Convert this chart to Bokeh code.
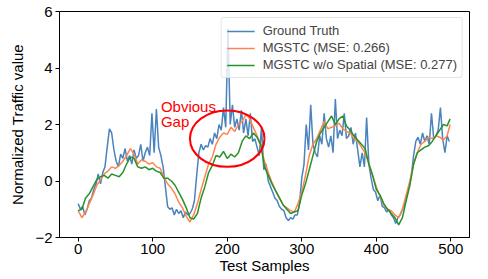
from bokeh.plotting import figure
from bokeh.models import Range1d, FixedTicker, Legend, LegendItem, Label
from bokeh.embed import file_html
from bokeh.resources import INLINE

# ---------------- data ----------------
gt_x = list(range(0, 499, 3))
gt_y = [
    -0.8, -1.0, -0.9, -1.2, -1.0, -0.7, -0.6, -0.3, -0.1, 0.25,
    -0.1, 0.3, 0.5, 1.2, 1.85, 1.7, 1.1, 0.7, 0.5, 0.95,
    0.8, 1.15, 0.7, 0.9, 0.6, 1.1, 0.8, 0.9, 1.3, 0.7,
    1.0, 1.2, 0.9, 2.4, 1.0, 2.55, 1.2, 0.9, 0.5, -0.2,
    -0.9, -1.0, -0.95, -1.2, -1.0, -1.15, -1.05, -1.3, -1.1, -1.2,
    -1.15, -1.0, -0.7, 0.2, 1.0, 1.3, 1.1, 1.25, 1.2, 1.5,
    1.3, 1.7, 1.5, 2.0, 1.8, 2.6, 1.9, 5.4, 2.0, 2.7,
    1.9, 2.2, 1.8, 2.5, 1.7, 2.2, 1.6, 2.4, 1.4, 1.5,
    1.2, 0.9, 1.9, 0.4, 0.6, 0.0, -0.2, -0.4, -0.6, -0.7,
    -0.9, -1.0, -1.05, -1.3, -1.4, -1.3, -1.35, -1.2, -1.2, -0.8,
    0.1, 0.6, 2.0, 1.1, 2.7, 1.3, 1.0, 0.85, 1.6, 1.3,
    2.4, 1.5, 1.2, 1.6, 1.0, 2.9, 1.5, 1.8, 1.6, 2.4,
    1.5, 1.6, 1.9, 1.3, 1.7, 1.1, 0.5, 1.0, 0.5, 2.25,
    0.6, 0.1, -0.3, -0.4, -0.7, -0.5, -0.9, -0.95, -1.1, -1.0,
    -1.2, -1.3, -1.5, -1.3, -1.2, -1.0, -0.8, -0.5, -0.2, 0.2,
    0.9, 1.4, 1.55, 1.3, 1.7, 1.4, 1.6, 1.3, 2.4, 1.5,
    1.6, 1.8, 2.6, 1.5, 1.0, 1.6, 1.4,
]

pred_x = list(range(0, 500, 5)) + [499]
mgstc_y = [
    -1.05, -1.3, -1.1, -0.8, -0.5, -0.15, 0.05, 0.25, 0.35, 0.5,
    0.45, 0.55, 0.7, 0.9, 1.15, 0.95, 0.6, 0.75, 0.7, 0.6,
    0.65, 0.5, 0.45, 0.15, -0.1, -0.25, -0.45, -0.75, -0.95, -1.25,
    -1.45, -1.2, -0.8, -0.3, 0.15, 0.6, 0.85, 1.3, 1.55, 1.7,
    1.65, 1.9, 1.75, 2.0, 2.1, 2.35, 2.2, 1.9, 1.6, 1.2,
    0.7, 0.3, -0.05, -0.35, -0.6, -0.85, -0.95, -1.05, -1.1, -0.8,
    -0.4, 0.2, 0.9, 1.3, 1.5, 1.8, 2.1, 1.85, 1.9, 1.95,
    2.05, 1.85, 1.75, 1.7, 1.5, 1.4, 1.2, 1.0, 0.6, 0.2,
    -0.2, -0.55, -0.85, -1.0, -1.05, -1.2, -1.3, -1.0, -0.5, 0.0,
    0.6, 1.0, 1.3, 1.4, 1.55, 1.5, 1.6, 1.55, 1.45, 1.6,
    2.0,
]
nospatial_y = [
    -1.05, -1.0, -0.6, -0.45, -0.2, 0.05, 0.15, 0.2, 0.1, 0.25,
    0.2, 0.15, 0.3, 0.6, 0.85, 0.8, 0.5, 0.45, 0.5, 0.4,
    0.45, 0.35, 0.3, 0.1, 0.1, 0.0, -0.15, -0.4, -0.65, -0.95,
    -1.3, -1.35, -1.15, -0.6, -0.2, 0.3, 0.55, 0.9, 0.85, 1.05,
    0.8, 0.95, 0.85, 1.0, 1.4, 1.6, 1.5, 1.7, 1.55, 1.3,
    0.5, 0.2, -0.1, -0.35, -0.6, -0.85, -1.0, -1.15, -1.1, -1.05,
    -0.5, -0.1, 0.4, 0.9, 1.4, 1.7, 1.9, 2.1, 2.3, 2.0,
    2.2, 2.3, 1.95, 1.8, 1.6, 1.45, 1.3, 1.15, 0.6, 0.2,
    -0.3, -0.5, -0.8, -1.0, -1.15, -1.3, -1.55, -1.3, -0.7, -0.15,
    0.6, 1.0, 1.1, 1.2, 1.25, 1.4, 1.6, 1.8, 2.0, 1.95,
    2.2,
]

series_labels = ["Ground Truth", "MGSTC (MSE: 0.266)", "MGSTC w/o Spatial (MSE: 0.277)"]
x_ticks = [0, 100, 200, 300, 400, 500]
y_ticks = [-2, 0, 2, 4, 6]
y_tick_labels = ["\u22122", "0", "2", "4", "6"]

# annotation: ellipse around the gap
gap_center = (200, 1.5)
gap_size = (100, 2.0)
note_lines = ["Obvious", "Gap"]
note_pos = [(111, 2.64), (111, 2.1)]

FONT = "Liberation Sans"

p = figure(width=480, height=277, x_range=Range1d(-25, 525), y_range=Range1d(-2, 6),
           output_backend="svg", toolbar_location=None,
           min_border_left=59, min_border_right=11, min_border_top=11, min_border_bottom=40)
p.background_fill_color = "white"
p.border_fill_color = "white"
p.grid.visible = False
p.outline_line_color = "black"
p.outline_line_width = 1

for ax in (p.xaxis[0], p.yaxis[0]):
    ax.axis_line_color = "black"
    ax.major_tick_line_color = "black"
    ax.major_tick_in = 0
    ax.major_tick_out = 4
    ax.minor_tick_line_color = None
    ax.major_label_text_font = FONT
    ax.major_label_text_font_size = "15px"
    ax.major_label_text_color = "black"
    ax.axis_label_text_font = FONT
    ax.axis_label_text_font_size = "15px"
    ax.axis_label_text_font_style = "normal"
    ax.axis_label_text_color = "black"

p.xaxis.ticker = FixedTicker(ticks=x_ticks)
p.yaxis.ticker = FixedTicker(ticks=y_ticks)
p.yaxis.major_label_overrides = {t: l for t, l in zip(y_ticks, y_tick_labels)}
p.xaxis.major_label_standoff = 2
p.xaxis.axis_label_standoff = 0
p.yaxis.major_label_standoff = 3
p.yaxis.axis_label_standoff = 6
p.xaxis.axis_label = "Test Samples"
p.yaxis.axis_label = "Normalized Traffic value"

r_gt = p.line(gt_x, gt_y, line_color="#4a83bd", line_width=1.5)
r_m = p.line(pred_x, mgstc_y, line_color="#ff8450", line_width=1.5)
r_n = p.line(pred_x, nospatial_y, line_color="#27922a", line_width=1.5)

p.ellipse(x=[gap_center[0]], y=[gap_center[1]], width=[gap_size[0]], height=[gap_size[1]],
          fill_color=None, line_color="red", line_width=2)

for txt, (tx, ty) in zip(note_lines, note_pos):
    p.add_layout(Label(x=tx, y=ty, text=txt, text_color="red", text_font=FONT,
                       text_font_size="15px", text_baseline="alphabetic"))

legend = Legend(items=[LegendItem(label=series_labels[0], renderers=[r_gt]),
                       LegendItem(label=series_labels[1], renderers=[r_m]),
                       LegendItem(label=series_labels[2], renderers=[r_n])],
                location="top_right")
legend.margin = 6
legend.padding = 5
legend.spacing = 2
legend.label_text_font = FONT
legend.label_text_font_size = "13px"
legend.label_height = 14
legend.glyph_height = 14
legend.glyph_width = 28
legend.label_standoff = 8
legend.border_line_color = "#cccccc"
legend.border_line_width = 1
legend.background_fill_alpha = 0.8
try:
    legend.border_radius = 3
except Exception:
    pass
p.add_layout(legend)

open("out.html", "w").write(file_html(p, INLINE))
